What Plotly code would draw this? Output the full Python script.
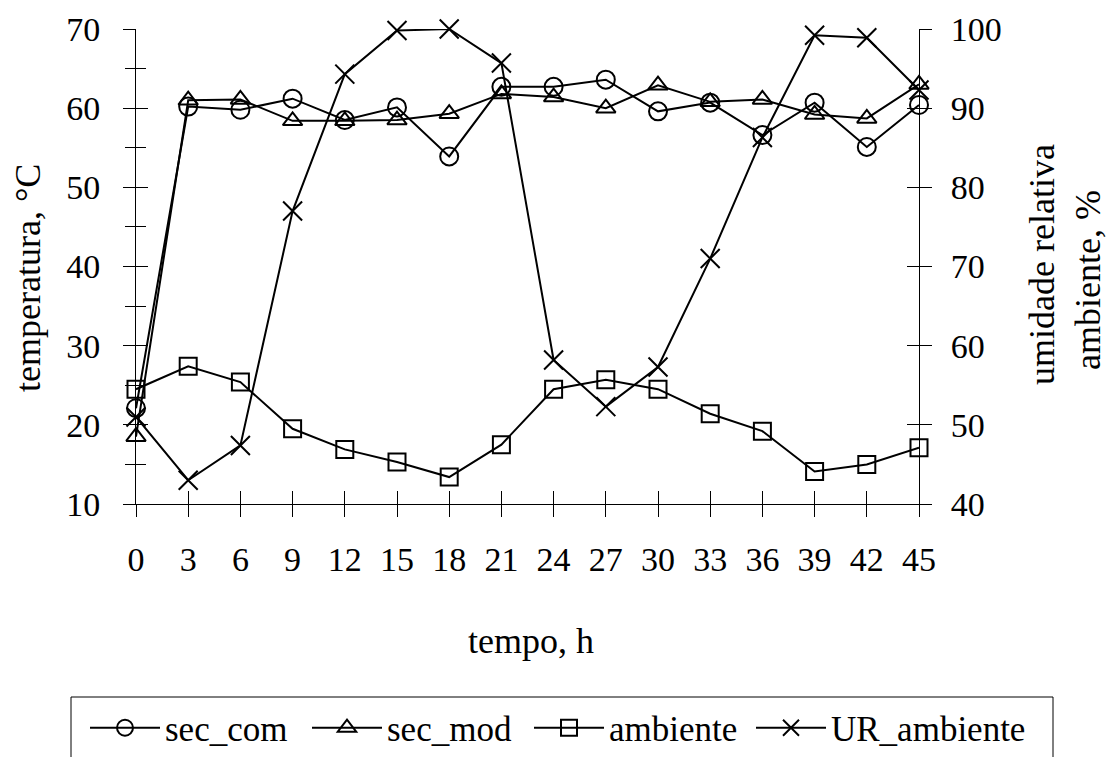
import plotly.graph_objects as go

# ---- data ----
tempo = [0, 3, 6, 9, 12, 15, 18, 21, 24, 27, 30, 33, 36, 39, 42, 45]
sec_com = [22.1, 60.2, 59.8, 61.2, 58.5, 60.1, 53.9, 62.7, 62.7, 63.6, 59.6, 60.7, 56.6, 60.7, 55.1, 60.4]
sec_mod = [18.5, 61.0, 61.1, 58.4, 58.4, 58.5, 59.3, 61.8, 61.4, 60.0, 62.9, 60.8, 61.1, 59.2, 58.7, 63.0]
ambiente = [24.5, 27.4, 25.4, 19.5, 16.9, 15.3, 13.4, 17.5, 24.5, 25.7, 24.5, 21.4, 19.2, 14.1, 15.0, 17.1]
ur_ambiente = [51.0, 43.0, 47.4, 77.0, 94.3, 99.8, 100.0, 95.7, 58.2, 52.3, 57.3, 71.0, 86.3, 99.2, 98.9, 92.3]

x_ticks = tempo
y_left_ticks = [10, 20, 30, 40, 50, 60, 70]
y_right_ticks = [40, 50, 60, 70, 80, 90, 100]

W, H = 1109, 757
FONT = "Liberation Serif"
FS_TICK = 34
FS_TITLE = 36
FS_LEG = 35
BLACK = "black"

fig = go.Figure()

def add(name, y, symbol, size, axis="y", legendwidth=None):
    fig.add_trace(go.Scatter(
        x=tempo, y=y, name=name, mode="lines+markers", yaxis=axis,
        line=dict(color=BLACK, width=2),
        marker=dict(symbol=symbol, size=size, color=BLACK, line=dict(color=BLACK, width=2)),
        cliponaxis=False, legendwidth=legendwidth,
    ))

add("sec_com", sec_com, "circle-open", 18)
add("sec_mod", sec_mod, "triangle-up-open", 17)
add("ambiente", ambiente, "square-open", 17)
add("UR_ambiente", ur_ambiente, "x-thin-open", 19, axis="y2", legendwidth=210)

# empty helper traces so the tick-overlay axes get drawn
fig.add_trace(go.Scatter(x=[], y=[], xaxis="x3", yaxis="y", showlegend=False, hoverinfo="skip"))
fig.add_trace(go.Scatter(x=[], y=[], xaxis="x", yaxis="y3", showlegend=False, hoverinfo="skip"))
fig.add_trace(go.Scatter(x=[], y=[], xaxis="x", yaxis="y4", showlegend=False, hoverinfo="skip"))

xdom = [136 / W, 919 / W]
ydom = [(H - 504) / H, (H - 29) / H]
tickfont = dict(family=FONT, size=FS_TICK, color=BLACK)
titlefont = dict(family=FONT, size=FS_TITLE, color=BLACK)

fig.update_layout(
    width=W, height=H,
    margin=dict(l=0, r=0, t=0, b=0, autoexpand=False),
    paper_bgcolor="white", plot_bgcolor="white",
    font=dict(family=FONT, size=FS_TICK, color=BLACK),
    xaxis=dict(domain=xdom, range=[0, 45], tickvals=x_ticks, ticktext=[str(v) for v in x_ticks],
               ticks="outside", ticklen=12, tickwidth=1, tickcolor=BLACK,
               showline=True, linecolor=BLACK, linewidth=1, showgrid=False, zeroline=False,
               tickfont=tickfont, ticklabelstandoff=13, anchor="y"),
    xaxis3=dict(overlaying="x", range=[0, 45], tickvals=x_ticks, ticks="inside", ticklen=13,
                tickwidth=1, tickcolor=BLACK, showticklabels=False, showline=False,
                showgrid=False, zeroline=False, anchor="y", side="bottom"),
    yaxis=dict(domain=ydom, range=[10, 70], tickvals=y_left_ticks, ticks="outside", ticklen=12,
               tickwidth=1, tickcolor=BLACK, showline=True, linecolor=BLACK, linewidth=1,
               showgrid=False, zeroline=False, tickfont=tickfont, ticklabelstandoff=16,
               minor=dict(dtick=5, ticks="outside", ticklen=10, tickwidth=1, tickcolor=BLACK, showgrid=False),
               anchor="x"),
    yaxis3=dict(overlaying="y", range=[10, 70], tickvals=y_left_ticks, ticks="inside", ticklen=12,
                tickwidth=1, tickcolor=BLACK, showticklabels=False, showline=False, showgrid=False,
                zeroline=False, side="left", anchor="x",
                minor=dict(dtick=5, ticks="inside", ticklen=10, tickwidth=1, tickcolor=BLACK, showgrid=False)),
    yaxis2=dict(overlaying="y", side="right", range=[40, 100], tickvals=y_right_ticks,
                ticks="outside", ticklen=12, tickwidth=1, tickcolor=BLACK, showline=True,
                linecolor=BLACK, linewidth=1, showgrid=False, zeroline=False, tickfont=tickfont,
                ticklabelstandoff=12, anchor="x"),
    yaxis4=dict(overlaying="y", side="right", range=[40, 100], tickvals=y_right_ticks,
                ticks="inside", ticklen=12, tickwidth=1, tickcolor=BLACK, showticklabels=False,
                showline=False, showgrid=False, zeroline=False, anchor="x"),
    showlegend=True,
    legend=dict(orientation="h", x=85 / W, xanchor="left", y=(H - 728) / H, yanchor="middle",
                font=dict(family=FONT, size=FS_LEG, color=BLACK), bgcolor="rgba(0,0,0,0)",
                borderwidth=0, itemwidth=70, entrywidth=137, entrywidthmode="pixels",
                traceorder="normal", itemclick=False),
    annotations=[
        dict(text="temperatura, °C", textangle=-90, xref="paper", yref="paper",
             x=28 / W, y=(H - 278) / H, xanchor="center", yanchor="middle", showarrow=False,
             font=titlefont),
        dict(text="umidade relativa", textangle=-90, xref="paper", yref="paper",
             x=1042 / W, y=(H - 265) / H, xanchor="center", yanchor="middle", showarrow=False,
             font=titlefont),
        dict(text="ambiente, %", textangle=-90, xref="paper", yref="paper",
             x=1088 / W, y=(H - 280) / H, xanchor="center", yanchor="middle", showarrow=False,
             font=titlefont),
        dict(text="tempo, h", xref="paper", yref="paper",
             x=531 / W, y=(H - 641) / H, xanchor="center", yanchor="middle", showarrow=False,
             font=titlefont),
    ],
    shapes=[
        dict(type="rect", xref="paper", yref="paper", x0=71 / W, x1=1053 / W,
             y0=-0.2, y1=(H - 697) / H, line=dict(color=BLACK, width=1), fillcolor="rgba(0,0,0,0)",
             layer="below"),
    ],
)

fig.write_html("out.html")
